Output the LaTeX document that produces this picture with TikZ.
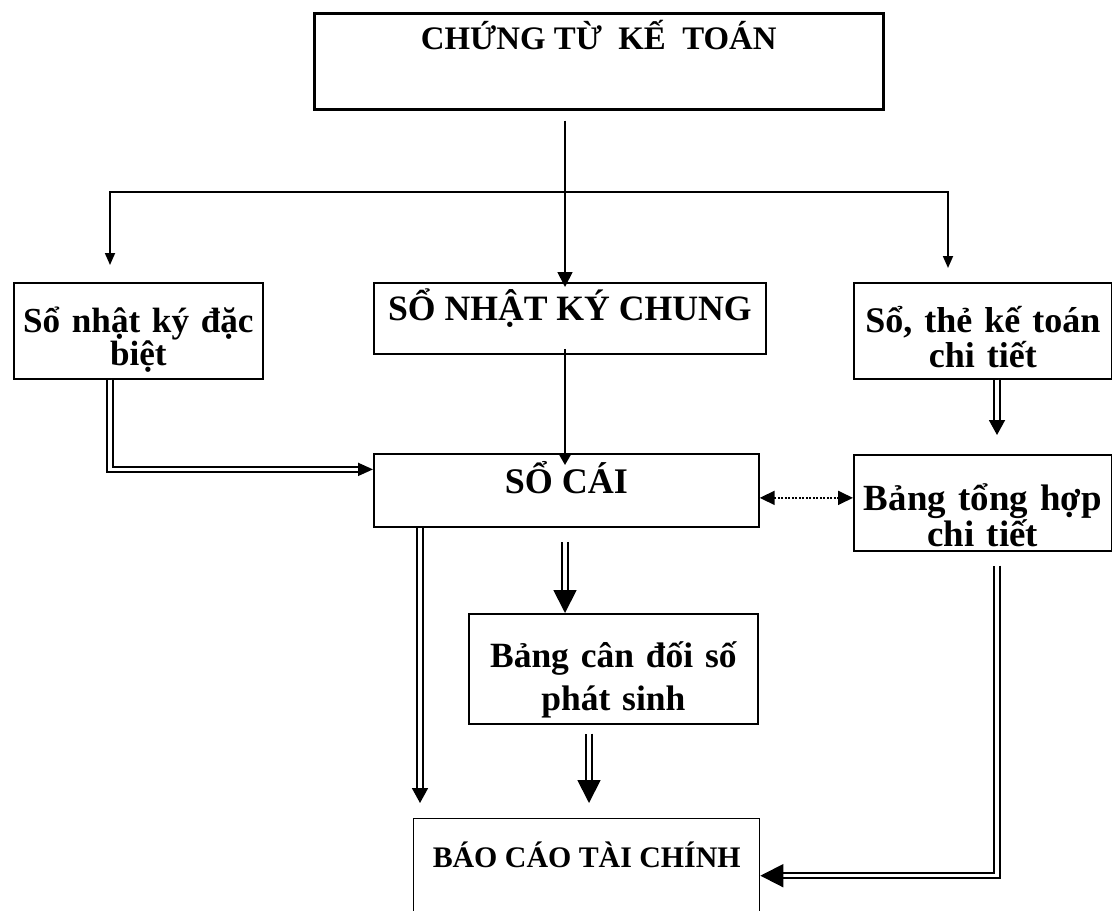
\documentclass[tikz,border=0pt]{standalone}
\usepackage{fontspec}
\setmainfont{Liberation Serif}
\usetikzlibrary{arrows.meta}
\usetikzlibrary{positioning}
\newcommand\boxfont[2]{\bfseries\fontsize{#1}{#2}\selectfont\lineskiplimit=-20pt}

\begin{document}
\begin{tikzpicture}[x=0.02cm,y=-0.02cm]
      \tikzstyle{every node}=[draw, rectangle, line width=1pt, anchor=north west, inner sep=0pt, align=center]
      \tikzstyle{line}=[line width=1pt]
      \tikzstyle{dbl}=[double, line width=1.05pt, double distance=1.9pt]
      \tikzstyle{big}=[-{Triangle[length=0.46cm,width=0.46cm]}]
      \tikzstyle{mid}=[-{Triangle[length=0.3cm,width=0.32cm]}]
      \useasboundingbox (0,0) rectangle (1112,910);

      \node[line width=1.5pt, minimum width=11.38cm, text height=0.72cm, text depth=1.2cm, font=\boxfont{18.7}{22}] (ct) at (313,12) {CHỨNG TỪ\ \ KẾ\ \ TOÁN};
      \node[text width=4.98cm, text height=1cm, text depth=0.92cm, font=\boxfont{20}{18.8}] (nkdb) at (13,282) {Sổ nhật ký đặc\\ biệt};
      \node[minimum width=7.84cm, text height=0.76cm, text depth=0.66cm, font=\boxfont{20.3}{24}] (nkc) at (373,282) {SỔ NHẬT KÝ CHUNG};
      \node[text width=5.16cm, text height=1cm, text depth=0.92cm, font=\boxfont{20.5}{19.9}] (stct) at (853,282) {Sổ, thẻ kế toán\\ chi tiết};
      \node[minimum width=7.7cm, text height=0.8cm, text depth=0.66cm, font=\boxfont{20.5}{24}] (sc) at (373,453) {SỔ CÁI};
      \node[text width=5.16cm, text height=1.12cm, text depth=0.8cm, font=\boxfont{21}{20.5}] (thct) at (853,454) {Bảng tổng hợp\\ chi tiết};
      \node[text width=5.78cm, text height=1.08cm, text depth=1.12cm, font=\boxfont{20.2}{24.5}] (cdps) at (468,613) {Bảng cân đối số\\ phát sinh};
      \node[line width=0.8pt, minimum width=6.92cm, text height=0.98cm, text depth=1.3cm, font=\boxfont{17}{20}] (bctc) at (413,818) {BÁO CÁO TÀI CHÍNH};

      \coordinate (fork) at (565,192);
      \coordinate (tl) at (110,265);
      \coordinate (tr) at (948,268);

      \draw[line, -{Triangle[length=0.3cm,width=0.3cm]}, shorten <=0.2cm, shorten >=-0.1cm] (ct.south -| fork) -- (nkc.north -| fork);
      \draw[line, {Triangle[length=0.24cm,width=0.2cm]}-{Triangle[length=0.24cm,width=0.2cm]}] (tl) |- (fork) -| (tr);
      \draw[line, -{Triangle[length=0.2cm,width=0.22cm]}, shorten <=-0.12cm, shorten >=-0.24cm] (nkc.south -| fork) -- (sc.north -| fork);
      \draw[dbl, -{Triangle[length=0.3cm,width=0.26cm]}] (nkdb.south -| tl) |- ([yshift=0.42cm]sc.west);
      \draw[dbl, mid, shorten >=0.38cm] (stct.south -| 997,0) -- (thct.north -| 997,0);
      \draw[line, densely dotted, {Triangle[length=0.3cm,width=0.28cm]}-{Triangle[length=0.3cm,width=0.28cm]}] ([yshift=-0.15cm]sc.east) -- ([yshift=-0.15cm]sc.east -| thct.west);
      \draw[dbl, mid, shorten >=0.3cm] (sc.south -| 420,0) -- (bctc.north -| 420,0);
      \draw[dbl, big, shorten <=0.28cm] (sc.south -| fork) -- (cdps.north -| fork);
      \draw[dbl, big, shorten <=0.18cm, shorten >=0.3cm] (cdps.south -| 589,0) -- (bctc.north -| 589,0);
      \draw[dbl, big, shorten <=0.28cm] (thct.south -| 997,0) |- (bctc.east);
\end{tikzpicture}
\end{document}
